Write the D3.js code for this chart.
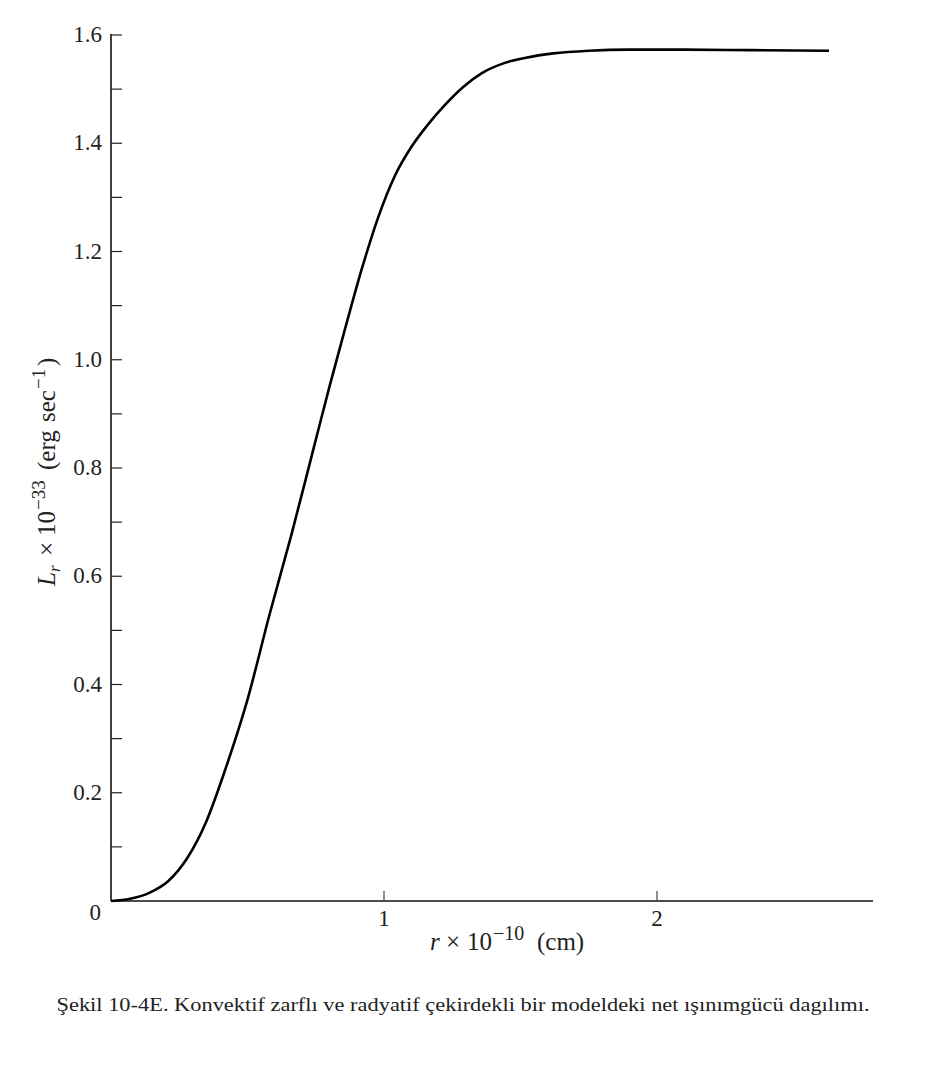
<!DOCTYPE html>
<html><head><meta charset="utf-8">
<script src="https://cdn.jsdelivr.net/npm/d3@7"></script>
<style>body{margin:0;background:#fff}svg{display:block}</style>
</head><body>
<script>
const rValues = [0, 0.07, 0.14, 0.21, 0.28, 0.35, 0.42, 0.5, 0.58, 0.66, 0.74, 0.8, 0.86, 0.92, 0.98, 1.04, 1.1, 1.16, 1.22, 1.29, 1.36, 1.44, 1.52, 1.62, 1.75, 1.9, 2.1, 2.35, 2.63];
const lValues = [0, 0.004, 0.015, 0.037, 0.080, 0.148, 0.245, 0.372, 0.528, 0.675, 0.832, 0.950, 1.062, 1.170, 1.265, 1.340, 1.393, 1.434, 1.469, 1.504, 1.530, 1.548, 1.558, 1.566, 1.571, 1.573, 1.573, 1.572, 1.571];
const yTickLabels = ["0", "0.2", "0.4", "0.6", "0.8", "1.0", "1.2", "1.4", "1.6"];
const yTickValues = [0, 0.2, 0.4, 0.6, 0.8, 1.0, 1.2, 1.4, 1.6];
const yMinorTicks = [0.1, 0.3, 0.5, 0.7, 0.9, 1.1, 1.3, 1.5];
const xTickValues = [1, 2];
const xTickLabels = ["1", "2"];

const W = 932, H = 1072;
const svg = d3.select("body").append("svg").attr("width", W).attr("height", H);
const x = d3.scaleLinear().domain([0, 2.8]).range([111, 111 + 273 * 2.8]);
const y = d3.scaleLinear().domain([0, 1.6]).range([901, 35]);
const serif = "'Liberation Serif', 'Times New Roman', serif";

// axes
svg.append("line").attr("x1", x(0)).attr("x2", x(0)).attr("y1", y(1.6) - 1).attr("y2", y(0))
  .attr("stroke", "#111").attr("stroke-width", 1.6);
svg.append("line").attr("x1", x(0)).attr("x2", 873).attr("y1", y(0)).attr("y2", y(0))
  .attr("stroke", "#111").attr("stroke-width", 1.6);

// y ticks (inside, to the right)
svg.selectAll(".yt").data(yTickValues.slice(1).concat(yMinorTicks)).enter().append("line")
  .attr("x1", x(0)).attr("x2", x(0) + 11).attr("y1", d => y(d)).attr("y2", d => y(d))
  .attr("stroke", "#222").attr("stroke-width", 1.2);
svg.selectAll(".yl").data(yTickValues).enter().append("text")
  .attr("x", (d, i) => i === 0 ? 101 : 102)
  .attr("y", (d, i) => i === 0 ? y(d) + 19 : y(d) + 7)
  .attr("text-anchor", "end").attr("font-family", serif).attr("font-size", 23).attr("fill", "#222")
  .text((d, i) => yTickLabels[i]);

// x ticks (upward)
svg.selectAll(".xt").data(xTickValues).enter().append("line")
  .attr("x1", d => x(d)).attr("x2", d => x(d)).attr("y1", y(0)).attr("y2", y(0) - 10)
  .attr("stroke", "#444").attr("stroke-width", 1.2);
svg.selectAll(".xl").data(xTickValues).enter().append("text")
  .attr("x", d => x(d)).attr("y", 926)
  .attr("text-anchor", "middle").attr("font-family", serif).attr("font-size", 23).attr("fill", "#222")
  .text((d, i) => xTickLabels[i]);

// x label
const xl = svg.append("text").attr("y", 950)
  .attr("font-family", serif).attr("font-size", 25).attr("fill", "#222");
xl.append("tspan").attr("x", 430).attr("font-style", "italic").text("r");
xl.append("tspan").attr("x", 446).text("×");
xl.append("tspan").attr("x", 467).text("10");
xl.append("tspan").attr("x", 493).attr("dy", -10).attr("font-size", 20).text("−10");
xl.append("tspan").attr("x", 537).attr("dy", 10).text("(cm)");

// y label (rotated; positions measured upward from the start)
const yl = svg.append("text").attr("transform", "translate(55,586) rotate(-90)")
  .attr("font-family", serif).attr("font-size", 25).attr("fill", "#222");
yl.append("tspan").attr("x", 0).attr("font-style", "italic").text("L");
yl.append("tspan").attr("font-style", "italic").attr("font-size", 17).attr("dy", 5).text("r");
yl.append("tspan").attr("x", 30).attr("dy", -5).text("×");
yl.append("tspan").attr("x", 50).text("10");
yl.append("tspan").attr("x", 76).attr("dy", -10).attr("font-size", 19).text("−33");
yl.append("tspan").attr("x", 116).attr("dy", 10).text("(erg");
yl.append("tspan").attr("x", 164).text("sec");
yl.append("tspan").attr("x", 197).attr("dy", -10).attr("font-size", 19).text("−1");
yl.append("tspan").attr("x", 220).attr("dy", 10).text(")");

// curve
const data = rValues.map((r, i) => ({r, L: lValues[i]}));
svg.append("path").datum(data)
  .attr("d", d3.line().x(d => x(d.r)).y(d => y(d.L)).curve(d3.curveMonotoneX))
  .attr("fill", "none").attr("stroke", "#000").attr("stroke-width", 2.6);

// caption
svg.append("text").attr("x", 463).attr("y", 1011).attr("text-anchor", "middle")
  .attr("font-family", serif).attr("font-size", 19).attr("fill", "#222")
  .attr("textLength", 813).attr("lengthAdjust", "spacingAndGlyphs")
  .text("Şekil 10-4E. Konvektif zarflı ve radyatif çekirdekli bir modeldeki net ışınımgücü dagılımı.");
</script>
</body></html>
